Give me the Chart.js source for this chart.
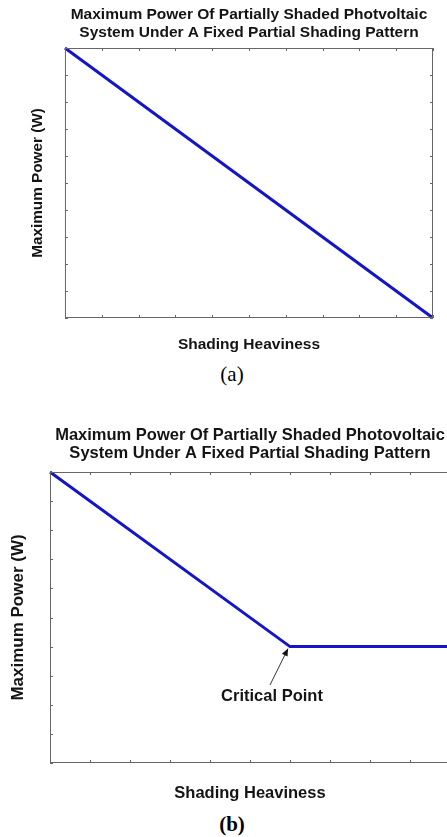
<!DOCTYPE html>
<html>
<head>
<meta charset="utf-8">
<script src="https://cdn.jsdelivr.net/npm/chart.js@4.4.1/dist/chart.umd.min.js"></script>
<style>
  html, body { margin: 0; padding: 0; width: 447px; height: 837px; overflow: hidden; background: #fff; }
  .box { position: absolute; left: 0; }
  .cap { position: absolute; width: 464px; left: 0; text-align: center; font-family: "Liberation Serif", serif; font-size: 21px; color: #000; }
</style>
</head>
<body>
<div class="box" style="top:0; width:447px; height:360px;"><canvas id="chartA"></canvas></div>
<div class="cap" style="top:362px;">(a)</div>
<div class="box" style="top:420px; width:460px; height:390px;"><canvas id="chartB"></canvas></div>
<div class="cap" style="top:812px; font-weight:bold;">(b)</div>
<script>
// データ
const shadingA = [0, 10];
const powerA = [10, 0];
const shadingB = [0, 6, 10];
const powerB = [10, 4, 4];
const critical = { x: 6, y: 4, labelX: 5.55, labelY: 2.3, tailX: 5.5, tailY: 2.68 };
const titleA = ['Maximum Power Of Partially Shaded Photvoltaic', 'System Under A Fixed Partial Shading Pattern'];
const titleB = ['Maximum Power Of Partially Shaded Photovoltaic', 'System Under A Fixed Partial Shading Pattern'];

const FONT = '"Liberation Sans", Arial, sans-serif';
const TEXT_COLOR = '#141414';
const LINE_COLOR = '#1414c8';
const BOX_COLOR = '#666';

// 枠と内向きの目盛り
const boxTicks = {
    id: 'boxTicks',
    afterDraw(chart) {
        const { ctx, chartArea: a, scales } = chart;
        ctx.save();
        ctx.strokeStyle = BOX_COLOR;
        ctx.lineWidth = 1;
        ctx.strokeRect(a.left + 0.5, a.top + 0.5, a.right - a.left - 1, a.bottom - a.top - 1);
        ctx.beginPath();
        scales.x.ticks.forEach(t => {
            const px = Math.round(scales.x.getPixelForValue(t.value)) + 0.5;
            ctx.moveTo(px, a.bottom); ctx.lineTo(px, a.bottom - 3);
            ctx.moveTo(px, a.top); ctx.lineTo(px, a.top + 3);
        });
        scales.y.ticks.forEach(t => {
            const py = Math.round(scales.y.getPixelForValue(t.value)) + 0.5;
            ctx.moveTo(a.left, py); ctx.lineTo(a.left + 3, py);
            ctx.moveTo(a.right, py); ctx.lineTo(a.right - 3, py);
        });
        ctx.stroke();
        ctx.restore();
    }
};

// 臨界点の注釈
const criticalNote = {
    id: 'criticalNote',
    afterDatasetsDraw(chart) {
        if (chart.canvas.id !== 'chartB') return;
        const { ctx, scales: { x, y } } = chart;
        const tipX = x.getPixelForValue(critical.x) - 2, tipY = y.getPixelForValue(critical.y) + 2;
        const tailX = x.getPixelForValue(critical.tailX), tailY = y.getPixelForValue(critical.tailY);
        const ang = Math.atan2(tipY - tailY, tipX - tailX);
        ctx.save();
        ctx.strokeStyle = '#333';
        ctx.fillStyle = '#111';
        ctx.lineWidth = 1;
        ctx.beginPath(); ctx.moveTo(tailX, tailY); ctx.lineTo(tipX, tipY); ctx.stroke();
        ctx.beginPath();
        ctx.moveTo(tipX, tipY);
        ctx.lineTo(tipX - 8 * Math.cos(ang - 0.4), tipY - 8 * Math.sin(ang - 0.4));
        ctx.lineTo(tipX - 8 * Math.cos(ang + 0.4), tipY - 8 * Math.sin(ang + 0.4));
        ctx.closePath(); ctx.fill();
        ctx.font = 'bold 16.5px ' + FONT;
        ctx.textAlign = 'center';
        ctx.textBaseline = 'middle';
        ctx.fillStyle = TEXT_COLOR;
        ctx.fillText('Critical Point', x.getPixelForValue(critical.labelX), y.getPixelForValue(critical.labelY));
        ctx.restore();
    }
};

function makeChart(id, xs, ys, title, f, pad) {
    return new Chart(document.getElementById(id), {
        type: 'line',
        data: {
            datasets: [{
                data: xs.map((v, i) => ({ x: v, y: ys[i] })),
                borderColor: LINE_COLOR,
                borderWidth: 3,
                pointRadius: 0,
                tension: 0,
                clip: false
            }]
        },
        options: {
            responsive: true,
            maintainAspectRatio: false,
            animation: false,
            layout: { padding: { left: 0, right: pad.right, top: 0, bottom: 0 } },
            plugins: {
                legend: { display: false },
                tooltip: { enabled: false },
                title: {
                    display: true,
                    text: title,
                    fullSize: false,
                    color: TEXT_COLOR,
                    font: { family: FONT, size: f.title, weight: 'bold', lineHeight: 18 / f.title },
                    padding: pad.title
                }
            },
            scales: {
                x: {
                    type: 'linear', min: 0, max: 10,
                    ticks: { display: false, stepSize: 1 },
                    grid: { display: false, drawTicks: false },
                    border: { display: false },
                    title: {
                        display: true, text: 'Shading Heaviness', color: TEXT_COLOR,
                        font: { family: FONT, size: f.x, weight: 'bold', lineHeight: 1.2 },
                        padding: pad.xTitle
                    }
                },
                y: {
                    type: 'linear', min: 0, max: 10,
                    ticks: { display: false, stepSize: 1 },
                    grid: { display: false, drawTicks: false },
                    border: { display: false },
                    title: {
                        display: true, text: 'Maximum Power (W)', color: TEXT_COLOR,
                        font: { family: FONT, size: f.y, weight: 'bold', lineHeight: 1.2 },
                        padding: pad.yTitle
                    }
                }
            }
        },
        plugins: [boxTicks, criticalNote]
    });
}

makeChart('chartA', shadingA, powerA, titleA, { title: 15.5, x: 15.5, y: 15.3 }, {
    right: 14,
    title: { top: 6, bottom: 6 },
    xTitle: { top: 17.7, bottom: 5.7 },
    yTitle: { top: 28.8, bottom: 17.8 }
});
makeChart('chartB', shadingB, powerB, titleB, { title: 16.5, x: 16.5, y: 17 }, {
    right: 10,
    title: { top: 6, bottom: 10 },
    xTitle: { top: 20.1, bottom: 7.1 },
    yTitle: { top: 7.8, bottom: 21.8 }
});
</script>
</body>
</html>
